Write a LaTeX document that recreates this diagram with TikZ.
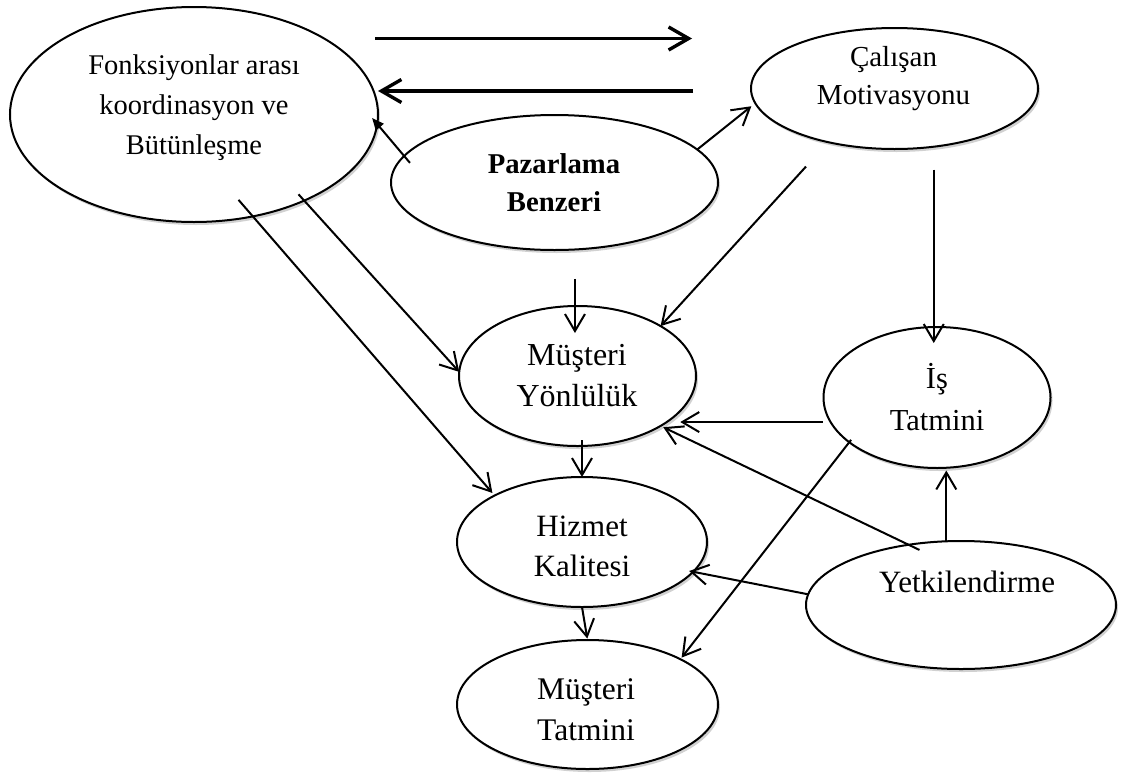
\documentclass[tikz,border=0pt]{standalone}
\usepackage{fontspec}
\setmainfont{Liberation Serif}
\usetikzlibrary{arrows.meta,shadows,shapes.geometric}
\begin{document}
\begin{tikzpicture}[x=1pt,y=-1pt,
  oval/.style={ellipse,draw,line width=2pt,fill=white,inner sep=0pt,outer sep=0pt,
    drop shadow={shadow xshift=2pt,shadow yshift=-3pt,opacity=0.3,fill=black!60}},
  txt/.style={align=center,inner sep=0pt,outer sep=0pt},
  link/.style={line width=2pt,-{Straight Barb[length=17pt,width=20pt]}},
  bold link/.style={line width=3.4pt,-{Straight Barb[length=20pt,width=23pt]}},
  solid tip/.style={line width=2pt,-{Triangle[length=12pt,width=10pt]}}
]
\useasboundingbox (0,0) rectangle (1135,774);

% ellipses
\node[oval,minimum width=368pt,minimum height=215pt] (F)  at (194,114.5) {};
\node[oval,minimum width=327pt,minimum height=135pt] (P)  at (554.5,182.5) {};
\node[oval,minimum width=287pt,minimum height=121pt] (C)  at (894.5,88.5) {};
\node[oval,minimum width=237pt,minimum height=140pt] (MY) at (577.5,376) {};
\node[oval,minimum width=227pt,minimum height=141pt] (IT) at (937,397.5) {};
\node[oval,minimum width=250pt,minimum height=130pt] (HK) at (582,542) {};
\node[oval,minimum width=261pt,minimum height=129pt] (MT) at (587.5,704.5) {};
\node[oval,minimum width=310pt,minimum height=128pt] (Y)  at (961,605) {};

% labels
\node[txt,font=\fontsize{28.5}{40}\selectfont] (tF) at (194,107.5)
  {Fonksiyonlar arası\\koordinasyon ve\\Bütünleşme};
\node[txt,font=\bfseries\fontsize{28.7}{38}\selectfont] (tP) at (554,182.3)
  {Pazarlama\\Benzeri};
\node[txt,font=\fontsize{29}{38}\selectfont] (tC) at (893.5,78.3)
  {Çalışan\\Motivasyonu};
\node[txt,font=\fontsize{32}{41}\selectfont] (tMY) at (577,375.5)
  {Müşteri\\Yönlülük};
\node[txt,font=\fontsize{30.5}{42}\selectfont] (tIT) at (937,397.3)
  {İş\\Tatmini};
\node[txt,font=\fontsize{31}{40}\selectfont] (tHK) at (582,546.4)
  {Hizmet\\Kalitesi};
\node[txt,font=\fontsize{31.5}{41}\selectfont] (tMT) at (586,709.7)
  {Müşteri\\Tatmini};
\node[txt,font=\fontsize{31}{40}\selectfont,anchor=base] (tY) at (967,592)
  {Yetkilendirme};

% top pair of arrows
\coordinate (r1) at (375,38.5);
\coordinate (r2) at (692,38.5);
\coordinate (l1) at (693,91);
\draw[bold link] (r1) -- (r2);
\draw[bold link] (l1) -- (l1 -| F.east);

% connectors
\draw[solid tip,shorten <=-9pt,shorten >=-8pt] (P.170) -- (F.-3);
\draw[link,shorten >=5pt] (P.13.6) -- (C.186);
\draw[link,shorten <=33pt] (C.219.7) -- (MY.31);
\draw[link,shorten <=23pt,shorten >=-16pt] (C.-56.6) -- (C.-56.6 |- IT.north);
\draw[link,shorten <=29.5pt,shorten >=-27pt] (P.-73) -- (P.-73 |- MY.north);
\draw[link,shorten <=-8.5pt] (F.-38.7) -- (MY.178.7);
\draw[link,shorten <=-21.8pt,shorten >=3.4pt] (F.-60.1) -- (HK.152.4);
\draw[link,shorten <=-6pt] (HK.north |- MY.south) -- (HK.north);
\draw[link,shorten <=7.7pt,shorten >=14.7pt] (IT.193.55) -- (IT.193.55 -| MY.-28.2);
\draw[link,shorten <=-12pt,shorten >=3pt] (Y.131.3) -- (MY.-31.8);
\draw[link,shorten >=2.5pt] (Y.103.7) -- (Y.103.7 |- IT.south);
\draw[link,shorten >=-4pt] (Y.176) -- (HK.-15);
\draw[link,shorten <=-3pt,shorten >=2pt] (IT.207) -- (MT.26.8);
\draw[link,shorten >=1.5pt] (HK.south) -- (MT.north);
\end{tikzpicture}
\end{document}
